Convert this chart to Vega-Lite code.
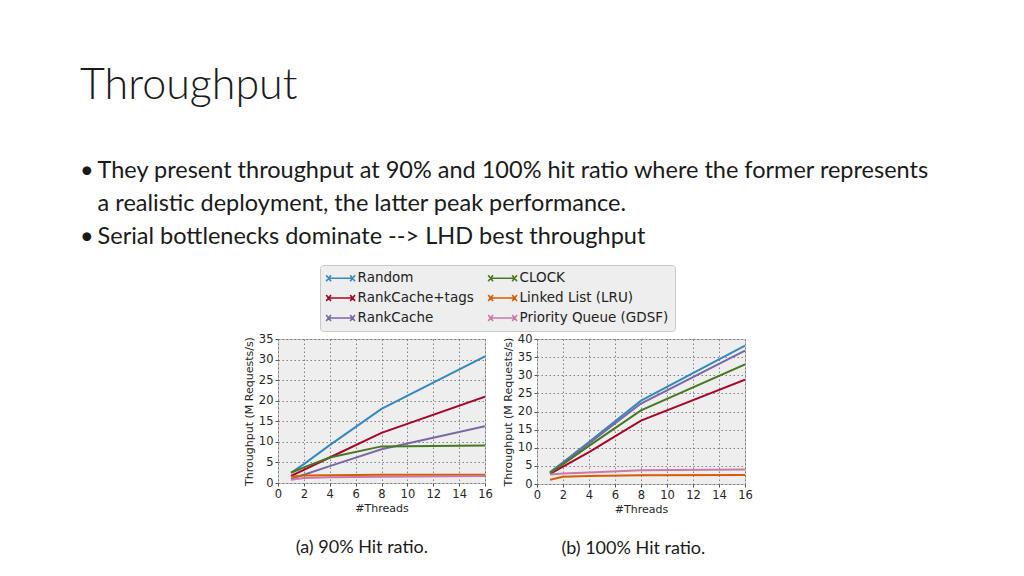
{
  "$schema": "https://vega.github.io/schema/vega-lite/v6.json",
  "background": "white",
  "padding": {"left": 80, "top": 65, "right": 10, "bottom": 5},
  "title": {
    "text": "Throughput",
    "subtitle": [
      "•\u2006They present throughput at 90% and 100% hit ratio where the former represents",
      "\u200b\u2002\u2005a realistic deployment, the latter peak performance.",
      "•\u2006Serial bottlenecks dominate --> LHD best throughput"
    ],
    "anchor": "start",
    "frame": "group",
    "dx": -198,
    "font": "Lato",
    "fontSize": 43,
    "fontWeight": 300,
    "color": "#1a1a1a",
    "subtitleFont": "Lato",
    "subtitleFontSize": 23.5,
    "subtitleColor": "#1a1a1a",
    "subtitleLineHeight": 33,
    "subtitlePadding": 51,
    "offset": 16
  },
  "data": {
    "values": [
      {"panel": "a", "series": "Random", "threads": 1, "value": 2.5},
      {"panel": "a", "series": "Random", "threads": 2, "value": 4.6},
      {"panel": "a", "series": "Random", "threads": 4, "value": 9.2},
      {"panel": "a", "series": "Random", "threads": 8, "value": 18.0},
      {"panel": "a", "series": "Random", "threads": 16, "value": 30.8},
      {"panel": "a", "series": "RankCache+tags", "threads": 1, "value": 1.7},
      {"panel": "a", "series": "RankCache+tags", "threads": 2, "value": 3.2},
      {"panel": "a", "series": "RankCache+tags", "threads": 4, "value": 6.2},
      {"panel": "a", "series": "RankCache+tags", "threads": 8, "value": 12.2},
      {"panel": "a", "series": "RankCache+tags", "threads": 16, "value": 21.0},
      {"panel": "a", "series": "RankCache", "threads": 1, "value": 1.0},
      {"panel": "a", "series": "RankCache", "threads": 2, "value": 2.0},
      {"panel": "a", "series": "RankCache", "threads": 4, "value": 4.1},
      {"panel": "a", "series": "RankCache", "threads": 8, "value": 8.2},
      {"panel": "a", "series": "RankCache", "threads": 16, "value": 13.8},
      {"panel": "a", "series": "CLOCK", "threads": 1, "value": 2.5},
      {"panel": "a", "series": "CLOCK", "threads": 2, "value": 3.8},
      {"panel": "a", "series": "CLOCK", "threads": 4, "value": 6.2},
      {"panel": "a", "series": "CLOCK", "threads": 8, "value": 8.9},
      {"panel": "a", "series": "CLOCK", "threads": 16, "value": 9.1},
      {"panel": "a", "series": "Linked List (LRU)", "threads": 1, "value": 1.5},
      {"panel": "a", "series": "Linked List (LRU)", "threads": 2, "value": 1.8},
      {"panel": "a", "series": "Linked List (LRU)", "threads": 4, "value": 1.9},
      {"panel": "a", "series": "Linked List (LRU)", "threads": 8, "value": 2.0},
      {"panel": "a", "series": "Linked List (LRU)", "threads": 16, "value": 2.0},
      {"panel": "a", "series": "Priority Queue (GDSF)", "threads": 1, "value": 0.8},
      {"panel": "a", "series": "Priority Queue (GDSF)", "threads": 2, "value": 1.2},
      {"panel": "a", "series": "Priority Queue (GDSF)", "threads": 4, "value": 1.4},
      {"panel": "a", "series": "Priority Queue (GDSF)", "threads": 8, "value": 1.5},
      {"panel": "a", "series": "Priority Queue (GDSF)", "threads": 16, "value": 1.7},
      {"panel": "b", "series": "Random", "threads": 1, "value": 3.2},
      {"panel": "b", "series": "Random", "threads": 2, "value": 6.0},
      {"panel": "b", "series": "Random", "threads": 4, "value": 11.6},
      {"panel": "b", "series": "Random", "threads": 8, "value": 23.0},
      {"panel": "b", "series": "Random", "threads": 16, "value": 38.2},
      {"panel": "b", "series": "RankCache+tags", "threads": 1, "value": 2.8},
      {"panel": "b", "series": "RankCache+tags", "threads": 2, "value": 4.8},
      {"panel": "b", "series": "RankCache+tags", "threads": 4, "value": 8.8},
      {"panel": "b", "series": "RankCache+tags", "threads": 8, "value": 17.5},
      {"panel": "b", "series": "RankCache+tags", "threads": 16, "value": 28.8},
      {"panel": "b", "series": "RankCache", "threads": 1, "value": 3.2},
      {"panel": "b", "series": "RankCache", "threads": 2, "value": 5.8},
      {"panel": "b", "series": "RankCache", "threads": 4, "value": 11.2},
      {"panel": "b", "series": "RankCache", "threads": 8, "value": 22.2},
      {"panel": "b", "series": "RankCache", "threads": 16, "value": 36.8},
      {"panel": "b", "series": "CLOCK", "threads": 1, "value": 3.0},
      {"panel": "b", "series": "CLOCK", "threads": 2, "value": 5.5},
      {"panel": "b", "series": "CLOCK", "threads": 4, "value": 10.5},
      {"panel": "b", "series": "CLOCK", "threads": 8, "value": 20.3},
      {"panel": "b", "series": "CLOCK", "threads": 16, "value": 33.0},
      {"panel": "b", "series": "Linked List (LRU)", "threads": 1, "value": 1.2},
      {"panel": "b", "series": "Linked List (LRU)", "threads": 2, "value": 2.0},
      {"panel": "b", "series": "Linked List (LRU)", "threads": 4, "value": 2.2},
      {"panel": "b", "series": "Linked List (LRU)", "threads": 8, "value": 2.4},
      {"panel": "b", "series": "Linked List (LRU)", "threads": 16, "value": 2.5},
      {"panel": "b", "series": "Priority Queue (GDSF)", "threads": 1, "value": 2.6},
      {"panel": "b", "series": "Priority Queue (GDSF)", "threads": 2, "value": 2.9},
      {"panel": "b", "series": "Priority Queue (GDSF)", "threads": 4, "value": 3.2},
      {"panel": "b", "series": "Priority Queue (GDSF)", "threads": 8, "value": 3.8},
      {"panel": "b", "series": "Priority Queue (GDSF)", "threads": 16, "value": 4.0}
    ]
  },
  "spacing": 8,
  "hconcat": [
    {
      "width": 207,
      "height": 144,
      "title": {"text": "(a) 90% Hit ratio.", "orient": "bottom", "anchor": "middle", "frame": "bounds", "offset": 25, "dx": -6},
      "transform": [{"filter": "datum.panel === 'a'"}],
      "mark": {"type": "line", "strokeWidth": 2, "clip": true},
      "encoding": {
        "x": {"field": "threads", "type": "quantitative", "scale": {"domain": [0, 16]}, "axis": {"values": [0, 2, 4, 6, 8, 10, 12, 14, 16], "title": "#Threads"}},
        "y": {"field": "value", "type": "quantitative", "scale": {"domain": [0, 35]}, "axis": {"values": [0, 5, 10, 15, 20, 25, 30, 35], "title": "Throughput (M Requests/s)"}},
        "color": {"field": "series", "type": "nominal"}
      }
    },
    {
      "width": 208,
      "height": 145,
      "title": {"text": "(b) 100% Hit ratio.", "orient": "bottom", "anchor": "middle", "frame": "bounds", "offset": 25, "dx": 6},
      "transform": [{"filter": "datum.panel === 'b'"}],
      "mark": {"type": "line", "strokeWidth": 2, "clip": true},
      "encoding": {
        "x": {"field": "threads", "type": "quantitative", "scale": {"domain": [0, 16]}, "axis": {"values": [0, 2, 4, 6, 8, 10, 12, 14, 16], "title": "#Threads"}},
        "y": {"field": "value", "type": "quantitative", "scale": {"domain": [0, 40]}, "axis": {"values": [0, 5, 10, 15, 20, 25, 30, 35, 40], "title": "Throughput (M Requests/s)"}},
        "color": {
          "field": "series",
          "type": "nominal",
          "scale": {
            "domain": ["Random", "CLOCK", "RankCache+tags", "Linked List (LRU)", "RankCache", "Priority Queue (GDSF)"],
            "range": ["#348ABD", "#467821", "#A60628", "#D55E00", "#7A68A6", "#CC79A7"]
          },
          "legend": {
            "title": null,
            "orient": "none",
            "legendX": 42,
            "legendY": -74,
            "columns": 2,
            "direction": "horizontal",
            "columnPadding": 11,
            "rowPadding": 6,
            "padding": 6,
            "fillColor": "#eeeeee",
            "strokeColor": "#c8c8c8",
            "cornerRadius": 3,
            "symbolType": "M-2.2,0H2.2M-2.4,-0.5L-1.6,0.5M-2.4,0.5L-1.6,-0.5M1.6,-0.5L2.4,0.5M1.6,0.5L2.4,-0.5",
            "symbolSize": 144,
            "symbolOffset": 7.6,
            "symbolStrokeWidth": 1.6,
            "symbolFillColor": "transparent",
            "labelFont": "DejaVu Sans",
            "labelFontSize": 13.5,
            "labelColor": "#222222",
            "labelOffset": 10
          }
        }
      }
    }
  ],
  "config": {
    "view": {"fill": "#eeeeee", "stroke": "#bcbcbc", "strokeWidth": 1},
    "axis": {
      "labelFont": "DejaVu Sans",
      "labelFontSize": 11.5,
      "labelColor": "#262626",
      "titleFont": "DejaVu Sans",
      "titleFontSize": 11,
      "titleFontWeight": "normal",
      "titleColor": "#262626",
      "domain": false,
      "ticks": true,
      "tickSize": 3,
      "tickColor": "#555555",
      "labelPadding": 2,
      "grid": true,
      "gridColor": "#666666",
      "gridDash": [1.5, 2.5],
      "gridWidth": 0.8
    },
    "axisX": {"titlePadding": 3, "labelFlush": false},
    "axisY": {"titlePadding": 4},
    "title": {"font": "Lato", "fontSize": 18, "fontWeight": "normal", "color": "#1a1a1a"}
  }
}
